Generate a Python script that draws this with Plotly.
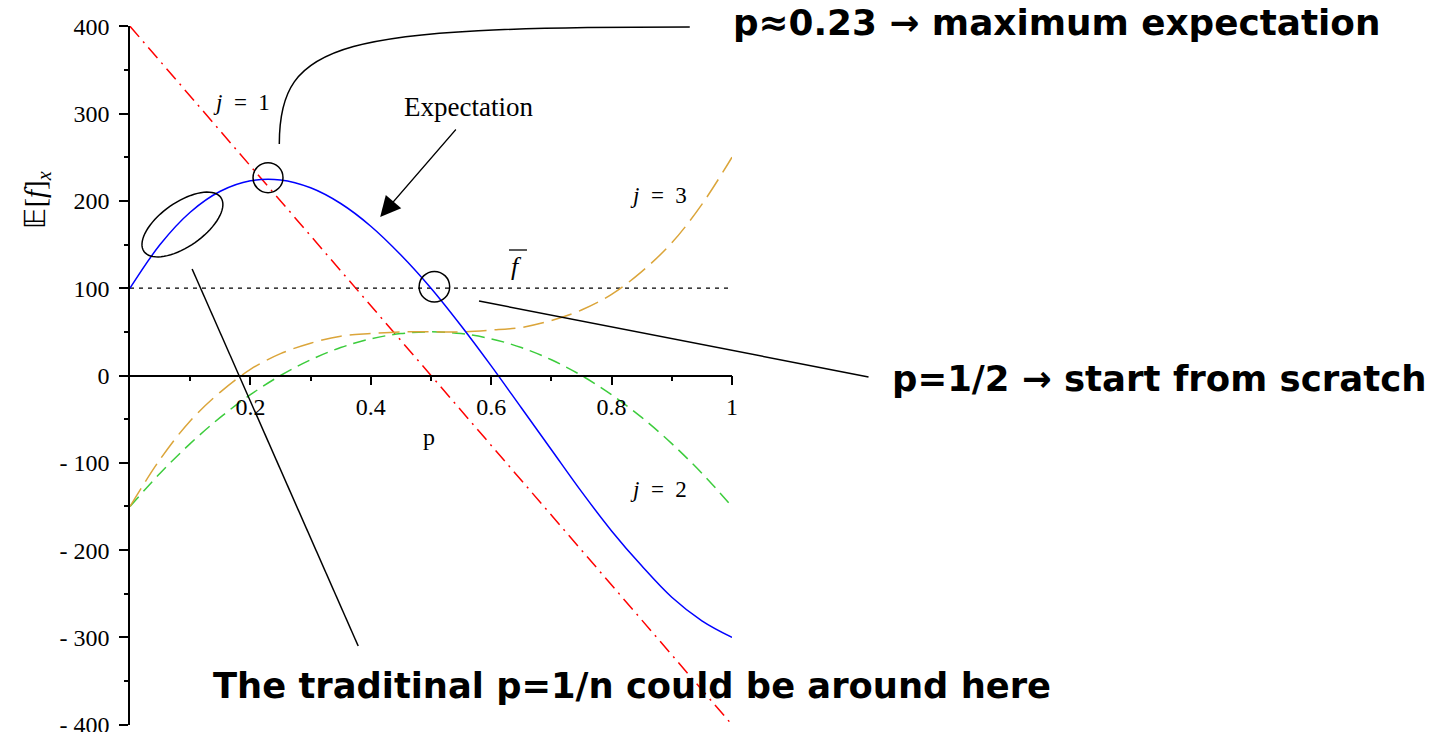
import math
import plotly.graph_objects as go

# Mutation probability grid and the curves plotted against it
p = [0.0, 0.05, 0.1, 0.15, 0.2, 0.25, 0.3, 0.35, 0.4, 0.45, 0.5,
     0.55, 0.6, 0.65, 0.7, 0.75, 0.8, 0.85, 0.9, 0.95, 1.0]
expectation = [100, 150, 187, 211, 223, 224, 215, 197, 171, 138, 100,
               57, 11, -37, -85, -133, -178, -218, -254, -281, -300]
j1 = [400, 360, 320, 280, 240, 200, 160, 120, 80, 40, 0,
      -40, -80, -120, -160, -200, -240, -280, -320, -360, -400]
j2 = [-150, -112, -78, -48, -22, 0, 18, 32, 42, 48, 50,
      48, 42, 32, 18, 0, -22, -48, -78, -112, -150]
j3 = [-150, -96, -52, -19, 7, 25, 37, 45, 48, 50, 50,
      50, 52, 55, 63, 75, 93, 119, 152, 196, 250]
fbar_p = [0.0, 1.0]
fbar = [100, 100]

x_ticks = [0.2, 0.4, 0.6, 0.8, 1.0]
x_ticktext = ["0.2", "0.4", "0.6", "0.8", "1"]
x_minor = [0.1, 0.3, 0.5, 0.7, 0.9]
y_ticks = [400, 300, 200, 100, 0, -100, -200, -300, -400]
y_ticktext = ["400", "300", "200", "100", "0", "- 100", "- 200", "- 300", "- 400"]
y_minor = [350, 250, 150, 50, -50, -150, -250, -350]

W_FIG, H_FIG = 1436, 732
L, R, T, B = 129.5, 703.7, 26.0, 7.0
PW = W_FIG - L - R
PH = H_FIG - T - B


def px(x):
    """Page pixel x -> paper fraction."""
    return (x - L) / PW


def py(y):
    """Page pixel y -> paper fraction."""
    return (H_FIG - B - y) / PH


SERIF = "Liberation Serif"
SANS = "DejaVu Sans"

fig = go.Figure()
fig.add_trace(go.Scatter(x=fbar_p, y=fbar, mode="lines",
                         line=dict(color="black", width=1.3, dash="4px,5px")))
fig.add_trace(go.Scatter(x=p, y=j1, mode="lines",
                         line=dict(color="#ff0000", width=1.5, dash="14px,6px,2px,6px")))
fig.add_trace(go.Scatter(x=p, y=j2, mode="lines",
                         line=dict(color="#3ccc3c", width=1.5, dash="13px,7px", shape="spline")))
fig.add_trace(go.Scatter(x=p, y=j3, mode="lines",
                         line=dict(color="#dba53a", width=1.5, dash="21px,8px", shape="spline")))
fig.add_trace(go.Scatter(x=p, y=expectation, mode="lines",
                         line=dict(color="#0000ff", width=1.5, shape="spline")))

shapes = []
# circles around the maximum and the p = 1/2 crossing
for cx, cy, r in [(267.7, 177.7, 15.0), (434.3, 286.7, 15.3)]:
    shapes.append(dict(type="circle", xref="paper", yref="paper",
                       x0=px(cx - r), x1=px(cx + r), y0=py(cy + r), y1=py(cy - r),
                       line=dict(color="black", width=1.5)))

# tilted ellipse around the low-p region
ecx, ecy, ea, eb, eth = 182.0, 224.5, 47.0, 22.0, math.radians(35)
pts = []
for k in range(73):
    t = 2 * math.pi * k / 72
    ex = ecx + ea * math.cos(t) * math.cos(eth) + eb * math.sin(t) * math.sin(eth)
    ey = ecy - ea * math.cos(t) * math.sin(eth) + eb * math.sin(t) * math.cos(eth)
    pts.append(f"{px(ex):.5f},{py(ey):.5f}")
shapes.append(dict(type="path", xref="paper", yref="paper",
                   path="M " + " L ".join(pts) + " Z",
                   line=dict(color="black", width=1.5)))

# curved leader to the top caption
c = [(279, 144), (279, 40), (340, 27), (690, 27)]
shapes.append(dict(type="path", xref="paper", yref="paper",
                   path=(f"M {px(c[0][0])},{py(c[0][1])} C {px(c[1][0])},{py(c[1][1])} "
                         f"{px(c[2][0])},{py(c[2][1])} {px(c[3][0])},{py(c[3][1])}"),
                   line=dict(color="black", width=1.5)))

# straight leaders
for (x0, y0), (x1, y1) in [((479, 301), (869, 377)), ((191.7, 269), (358, 646))]:
    shapes.append(dict(type="line", xref="paper", yref="paper",
                       x0=px(x0), y0=py(y0), x1=px(x1), y1=py(y1),
                       line=dict(color="black", width=1.5)))

# bar over f
shapes.append(dict(type="line", xref="paper", yref="paper",
                   x0=px(509), y0=py(250), x1=px(527), y1=py(250),
                   line=dict(color="black", width=1.3)))

annotations = [
    dict(x=px(380), y=py(217), ax=77, ay=-89, text="", showarrow=True,
         arrowhead=2, arrowsize=3.4, arrowwidth=1.2, arrowcolor="black", standoff=0),
    dict(x=px(468), y=py(107), text="Expectation",
         font=dict(family=SERIF, size=27, color="black")),
    dict(x=px(241), y=py(103), text="<i>j</i>\u2002=\u20021",
         font=dict(family=SERIF, size=23, color="black")),
    dict(x=px(659), y=py(195), text="<i>j</i>\u2002=\u20023",
         font=dict(family=SERIF, size=23, color="black")),
    dict(x=px(659), y=py(489), text="<i>j</i>\u2002=\u20022",
         font=dict(family=SERIF, size=23, color="black")),
    dict(x=px(517), y=py(266), text="<i>f</i>",
         font=dict(family=SERIF, size=26, color="black")),
    dict(x=px(429), y=py(437), text="p",
         font=dict(family=SERIF, size=24, color="black")),
    dict(x=px(36), y=py(200), text="\U0001D53C[<i>f</i>]<sub><i>x</i></sub>", textangle=-90,
         font=dict(family=SERIF, size=29, color="black")),
    dict(x=px(731), y=py(23), xanchor="left",
         text="p\u22480.23 \u2192 maximum expectation",
         font=dict(family=SANS, size=35.8, color="black", weight="bold")),
    dict(x=px(891), y=py(378), xanchor="left",
         text="p=1/2 \u2192 start from scratch",
         font=dict(family=SANS, size=35.5, color="black", weight="bold")),
    dict(x=px(211), y=py(685), xanchor="left",
         text="The traditinal p=1/n could be around here",
         font=dict(family=SANS, size=35.3, color="black", weight="bold")),
]
for a in annotations:
    a.setdefault("xref", "paper")
    a.setdefault("yref", "paper")
    a.setdefault("showarrow", False)
    a.setdefault("xanchor", "center")
    a.setdefault("yanchor", "middle")

fig.update_layout(
    width=W_FIG, height=H_FIG,
    margin=dict(l=L, r=R, t=T, b=B, pad=0, autoexpand=False),
    paper_bgcolor="white", plot_bgcolor="white",
    showlegend=False, hovermode=False,
    shapes=shapes, annotations=annotations,
    xaxis=dict(range=[0, 1], anchor="free", position=0.5, automargin=False,
               showline=True, linecolor="black", linewidth=1.5,
               showgrid=False, zeroline=False,
               tickmode="array", tickvals=x_ticks, ticktext=x_ticktext,
               ticks="outside", ticklen=9, tickwidth=1.5, tickcolor="black",
               ticklabelstandoff=1, ticklabeloverflow="allow",
               tickfont=dict(family=SERIF, size=24, color="black"),
               minor=dict(tickmode="array", tickvals=x_minor, ticks="outside",
                          ticklen=5, tickwidth=1.5, tickcolor="black")),
    yaxis=dict(range=[-400.3, 400.3], automargin=False,
               showline=True, linecolor="black", linewidth=1.5,
               showgrid=False, zeroline=False,
               tickmode="array", tickvals=y_ticks, ticktext=y_ticktext,
               ticks="outside", ticklen=9, tickwidth=1.5, tickcolor="black",
               ticklabelstandoff=5, ticklabeloverflow="allow",
               tickfont=dict(family=SERIF, size=24, color="black"),
               minor=dict(tickmode="array", tickvals=y_minor, ticks="outside",
                          ticklen=4.5, tickwidth=1.5, tickcolor="black")),
)

fig.write_html("out.html", config={"displayModeBar": False})
